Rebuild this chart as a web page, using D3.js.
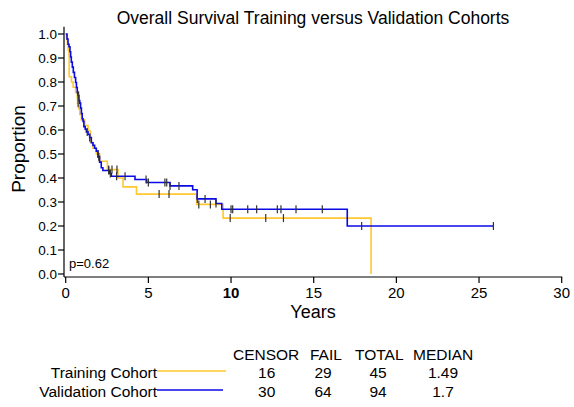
<!DOCTYPE html>
<html><head><meta charset="utf-8">
<script src="https://cdn.jsdelivr.net/npm/d3@7"></script>
<style>body{margin:0;background:#fff}svg{display:block;font-family:"Liberation Sans",Arial,sans-serif}</style>
</head><body><svg id="c" width="574" height="407"></svg>
<script>
// Training cohort (yellow) step times and survival after each step
const trainingTimes = [0,0.05,0.1,0.15,0.2,0.21,0.35,0.45,0.6,0.7,0.72,0.8,0.85,0.95,1.15,1.35,1.5,1.65,1.85,2.05,2.52,3.16,3.47,4.28,7.92,9.52,18.47];
const trainingSurv  = [1,0.978,0.956,0.933,0.911,0.822,0.80,0.778,0.756,0.733,0.711,0.688,0.665,0.642,0.619,0.596,0.548,0.524,0.50,0.47,0.435,0.40,0.363,0.333,0.29,0.233,0];
const trainingCensor = [0.75,1.95,2.6,2.8,3.1,5.65,6.25,8.05,8.75,9.95,12.1,13.17];
// Validation cohort (blue)
const validationTimes = [0,0.08,0.14,0.2,0.26,0.3,0.34,0.4,0.46,0.53,0.6,0.65,0.7,0.75,0.8,0.85,0.9,0.95,1.0,1.05,1.1,1.18,1.25,1.35,1.45,1.55,1.65,1.75,1.85,1.95,2.05,2.15,2.25,2.66,2.76,4.19,4.9,6.31,7.68,7.95,9.09,9.44,17.03,25.87];
const validationSurv  = [1,0.979,0.957,0.947,0.926,0.904,0.883,0.862,0.840,0.819,0.798,0.777,0.755,0.744,0.723,0.712,0.691,0.669,0.647,0.636,0.614,0.603,0.592,0.581,0.569,0.547,0.536,0.524,0.512,0.489,0.466,0.443,0.431,0.419,0.407,0.394,0.381,0.367,0.351,0.313,0.294,0.27,0.2,0.2];
const validationCensor = [0.75,0.78,1.3,1.45,2.0,2.6,2.7,3.08,3.59,4.86,5.0,6.0,6.11,6.31,6.85,7.96,8.43,9.09,10.0,10.1,11.01,11.55,12.8,13.02,13.93,15.52,17.9,25.87];

const xTicks = [0,5,10,15,20,25,30];
const yTicks = [0,0.1,0.2,0.3,0.4,0.5,0.6,0.7,0.8,0.9,1.0];
const tableHeader = ["CENSOR","FAIL","TOTAL","MEDIAN"];
const groupNames = ["Training Cohort","Validation Cohort"];
const censorCounts = ["16","30"];
const failCounts = ["29","64"];
const totalCounts = ["45","94"];
const medians = ["1.49","1.7"];
const pValue = "p=0.62";

const colors = ["#FFC82E","#0A0AE6"];
const svg = d3.select("#c");
const x = d3.scaleLinear().domain([0,30]).range([65.7,561.7]);
const y = d3.scaleLinear().domain([0,1]).range([274,34]);

// title
svg.append("text").attr("x",313).attr("y",24).attr("text-anchor","middle").attr("font-size",17.5).text("Overall Survival Training versus Validation Cohorts");

// axes lines
svg.append("line").attr("x1",64).attr("x2",64).attr("y1",277).attr("y2",y(1.03)).attr("stroke","#000").attr("stroke-width",1.2);
svg.append("line").attr("x1",64).attr("x2",x(30)+0.5).attr("y1",277).attr("y2",277).attr("stroke","#000").attr("stroke-width",1.2);

yTicks.forEach(v=>{
  svg.append("line").attr("x1",58).attr("x2",64).attr("y1",y(v)).attr("y2",y(v)).attr("stroke","#000").attr("stroke-width",1.2);
  svg.append("text").attr("x",57).attr("y",y(v)+5).attr("text-anchor","end").attr("font-size",13.5).text(d3.format(".1f")(v));
});
xTicks.forEach(v=>{
  svg.append("line").attr("x1",x(v)).attr("x2",x(v)).attr("y1",277).attr("y2",283).attr("stroke","#000").attr("stroke-width",1.2);
  svg.append("text").attr("x",x(v)).attr("y",298).attr("text-anchor","middle").attr("font-size",15)
    .attr("font-weight", v===10?"bold":"normal").text(v);
});
svg.append("text").attr("x",313).attr("y",318).attr("text-anchor","middle").attr("font-size",18).text("Years");
svg.append("text").attr("transform","translate(25,149) rotate(-90)").attr("text-anchor","middle").attr("font-size",19).text("Proportion");
svg.append("text").attr("x",69).attr("y",268).attr("font-size",13).text(pValue);

const line = d3.line().x(d=>x(d[0])).y(d=>y(d[1])).curve(d3.curveStepAfter);
const groups = [
  {times:trainingTimes, surv:trainingSurv, cens:trainingCensor},
  {times:validationTimes, surv:validationSurv, cens:validationCensor}
];
function survAt(g,t){let s=1;for(let i=0;i<g.times.length;i++){if(g.times[i]<=t) s=g.surv[i];}return s;}
[0,1].forEach(i=>{
  const g=groups[i];
  const pts=g.times.map((t,j)=>[t,g.surv[j]]);
  svg.append("path").attr("d",line(pts)).attr("fill","none").attr("stroke",colors[i]).attr("stroke-width",1.6);
});
[0,1].forEach(i=>{
  const g=groups[i];
  g.cens.forEach(t=>{
    const s=survAt(g,t);
    svg.append("line").attr("x1",x(t)).attr("x2",x(t)).attr("y1",y(s)-4).attr("y2",y(s)+4).attr("stroke","#333").attr("stroke-width",1.2);
  });
});

// legend table
const colX=[266.7,323,378,443];
svg.selectAll(".hdr").data(tableHeader).enter().append("text").attr("x",(d,i)=>[233,310,355,413][i]).attr("y",360).attr("font-size",15.5).text(d=>d);
groupNames.forEach((nm,i)=>{
  const yy = i===0?377.5:396.5;
  svg.append("text").attr("x",157).attr("y",yy).attr("text-anchor","end").attr("font-size",15.5).text(nm);
  svg.append("line").attr("x1",157).attr("x2",i===0?226:223).attr("y1",yy-6.5).attr("y2",yy-6.5).attr("stroke",colors[i]).attr("stroke-width",1.3);
  [censorCounts[i],failCounts[i],totalCounts[i],medians[i]].forEach((v,k)=>{
    svg.append("text").attr("x",colX[k]).attr("y",yy).attr("text-anchor","middle").attr("font-size",15.5).text(v);
  });
});
</script></body></html>
